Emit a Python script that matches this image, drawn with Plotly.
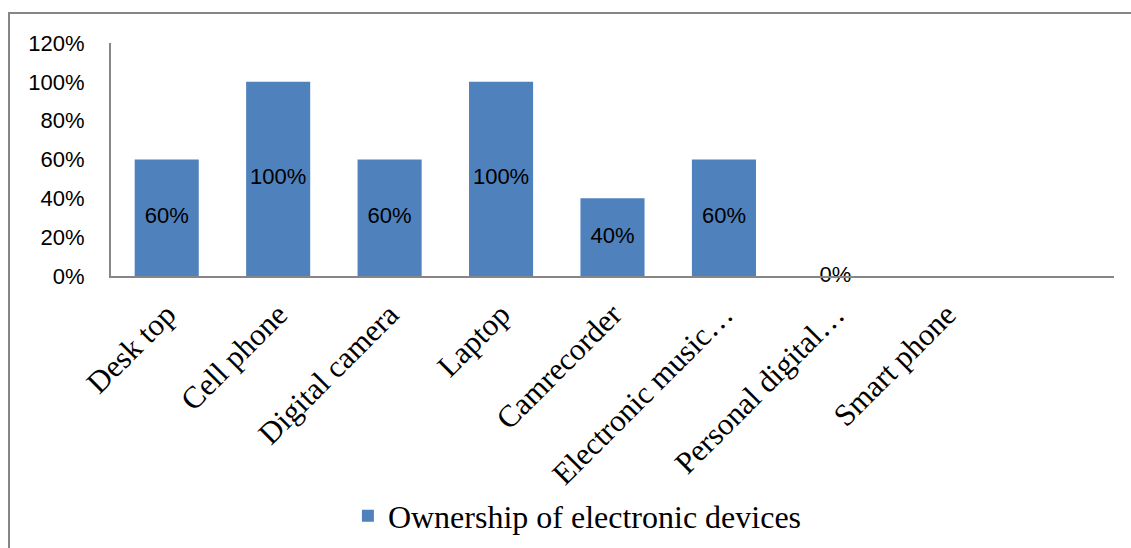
import plotly.graph_objects as go

categories = ["Desk top", "Cell phone", "Digital camera", "Laptop", "Camrecorder",
              "Electronic music…", "Personal digital…", "Smart phone"]
values = [0.60, 1.00, 0.60, 1.00, 0.40, 0.60, 0.00, None]
series_name = "Ownership of electronic devices"
y_ticks = [0, 0.2, 0.4, 0.6, 0.8, 1.0, 1.2]
y_tick_labels = ["0%", "20%", "40%", "60%", "80%", "100%", "120%"]

BAR = "#4F81BD"
AXIS = "#868686"

label_x = [c for c, v in zip(categories, values) if v is not None]
label_y = [v / 2 for v in values if v is not None]
label_t = [f"{round(v * 100)}%" for v in values if v is not None]

fig = go.Figure()
fig.add_trace(go.Bar(
    x=categories, y=values, name=series_name,
    marker=dict(color=BAR, line=dict(width=0)),
    width=0.575, showlegend=True,
))
fig.add_trace(go.Scatter(
    x=label_x, y=label_y, text=label_t, mode="text",
    textposition="middle center",
    textfont=dict(family="Liberation Sans, Arial", size=22, color="#000000"),
    showlegend=False, hoverinfo="skip", cliponaxis=False,
))

fig.update_layout(
    width=1131, height=548,
    margin=dict(l=111, r=17, t=43, b=272, autoexpand=False),
    paper_bgcolor="white", plot_bgcolor="white",
    xaxis=dict(
        type="category", range=[-0.5, 8.5],
        tickangle=-45, ticks="", showgrid=False,
        showline=True, linecolor=AXIS, linewidth=2,
        tickfont=dict(family="Liberation Serif, Times New Roman", size=31, color="#000000"),
        ticklabelstandoff=6,
        automargin=False,
    ),
    yaxis=dict(
        range=[0, 1.2], tickvals=y_ticks, ticktext=y_tick_labels,
        showgrid=False, zeroline=False, ticks="",
        showline=True, linecolor=AXIS, linewidth=2,
        tickfont=dict(family="Liberation Sans, Arial", size=22, color="#000000"),
        ticklabelstandoff=20,
        automargin=False,
    ),
    legend=dict(
        orientation="h", x=0.465, xanchor="center", y=-1.03, yanchor="middle",
        font=dict(family="Liberation Serif, Times New Roman", size=32, color="#000000"),
        bgcolor="rgba(0,0,0,0)",
    ),
    shapes=[dict(
        type="rect", xref="paper", yref="paper",
        x0=(9 - 111) / 1003, x1=(1140 - 111) / 1003,
        y0=(276 - 560) / 233, y1=(276 - 13) / 233,
        line=dict(color=AXIS, width=2), fillcolor="rgba(0,0,0,0)", layer="below",
    )],
)

fig.write_html("out.html")
